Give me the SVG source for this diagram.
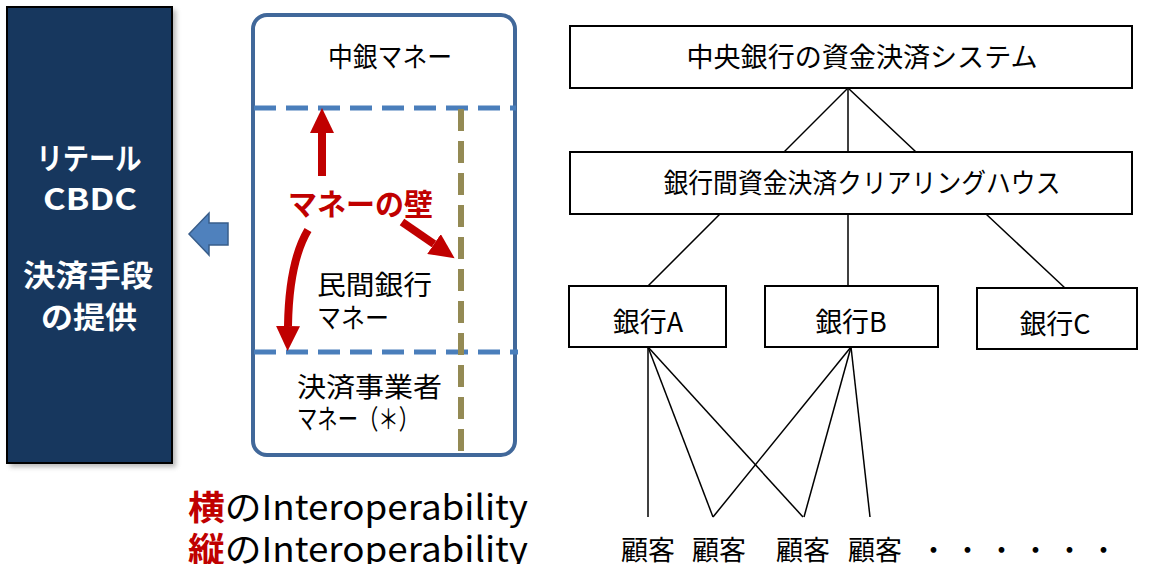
<svg xmlns="http://www.w3.org/2000/svg" width="1151" height="564" viewBox="0 0 1151 564">
<style>
text{font-family:"Noto Sans CJK JP","Noto Sans",sans-serif;fill:#000}
.box{fill:#fff;stroke:#000;stroke-width:2}
.lbl{font-size:27px;text-anchor:middle}
.mid{font-size:27px}
.wt{fill:#fff;font-weight:bold;font-size:30px;text-anchor:middle}
.conn{stroke:#000;stroke-width:1.5;fill:none}
.red{stroke:#c00000;stroke-width:8;fill:none}
.bdash{stroke:#4a7ebb;stroke-width:5;stroke-dasharray:22 10;fill:none}
.odash{stroke:#948a54;stroke-width:6;stroke-dasharray:22 10;fill:none}
.big{font-size:34px}
.r{fill:#c00000;font-weight:bold}
</style>
<defs>
<marker id="rh" markerUnits="userSpaceOnUse" markerWidth="26" markerHeight="24" refX="0" refY="12" orient="auto">
<path d="M0,0 L25,12 L0,24 z" fill="#c00000"/>
</marker>
<filter id="sh" x="-10%" y="-10%" width="130%" height="130%">
<feGaussianBlur stdDeviation="2.5"/>
</filter>
</defs>
<rect width="1151" height="564" fill="#fff"/>

<g id="cbdc">
<rect x="10" y="10" width="166" height="457" fill="#888" opacity="0.6" filter="url(#sh)"/>
<rect x="7" y="7" width="165" height="456" fill="#17375e" stroke="#000" stroke-width="2"/>
<text class="wt" x="89" y="169" textLength="105" lengthAdjust="spacingAndGlyphs">リテール</text>
<text class="wt" x="90" y="210" textLength="94" lengthAdjust="spacingAndGlyphs">CBDC</text>
<text class="wt" x="88" y="286" textLength="130" lengthAdjust="spacingAndGlyphs">決済手段</text>
<text class="wt" x="89" y="328" textLength="96" lengthAdjust="spacingAndGlyphs">の提供</text>
</g>

<g id="left-arrow">
<polygon points="189,234 209,213 209,223 228,223 228,245 209,245 209,255" fill="#4f81bd" stroke="#385d8a" stroke-width="1.5"/>
</g>

<g id="money-box">
<rect x="253" y="15" width="262" height="440" rx="14" fill="#fff" stroke="#41689a" stroke-width="4"/>
<text class="mid" x="328" y="67" textLength="124" lengthAdjust="spacingAndGlyphs">中銀マネー</text>
<text class="mid" x="317" y="295" textLength="115" lengthAdjust="spacingAndGlyphs">民間銀行</text>
<text class="mid" x="317" y="328" textLength="72" lengthAdjust="spacingAndGlyphs">マネー</text>
<text class="mid" x="297" y="397" textLength="145" lengthAdjust="spacingAndGlyphs">決済事業者</text>
<text class="mid" x="297" y="429" textLength="122" lengthAdjust="spacingAndGlyphs">マネー（＊）</text>
<line class="bdash" x1="254" y1="108" x2="516" y2="108"/>
<line class="bdash" x1="254" y1="352" x2="518" y2="352"/>
<line class="odash" x1="461" y1="109" x2="461" y2="453"/>
<path class="red" d="M322,176 L322,133" marker-end="url(#rh)"/>
<path class="red" d="M402,222 L434,244" marker-end="url(#rh)"/>
<path class="red" d="M308,230 Q289,262 288,326" marker-end="url(#rh)"/>
<text x="288" y="215" font-size="30" font-weight="bold" style="fill:#c00000" textLength="145" lengthAdjust="spacingAndGlyphs">マネーの壁</text>
</g>

<g id="interop">
<text class="big" x="188" y="520" textLength="340" lengthAdjust="spacingAndGlyphs"><tspan class="r">横</tspan>のInteroperability</text>
<text class="big" x="188" y="562" textLength="340" lengthAdjust="spacingAndGlyphs"><tspan class="r">縦</tspan>のInteroperability</text>
</g>

<g id="connectors">
<line class="conn" x1="848" y1="88" x2="784" y2="152"/>
<line class="conn" x1="848" y1="88" x2="848" y2="152"/>
<line class="conn" x1="848" y1="88" x2="916" y2="152"/>
<line class="conn" x1="720" y1="214" x2="648" y2="286"/>
<line class="conn" x1="848" y1="214" x2="848" y2="286"/>
<line class="conn" x1="986" y1="214" x2="1065" y2="288"/>
<line class="conn" x1="648" y1="347" x2="648" y2="517"/>
<line class="conn" x1="648" y1="347" x2="713" y2="517"/>
<line class="conn" x1="648" y1="347" x2="803" y2="517"/>
<line class="conn" x1="851" y1="347" x2="713" y2="517"/>
<line class="conn" x1="851" y1="347" x2="804" y2="517"/>
<line class="conn" x1="851" y1="347" x2="870" y2="517"/>
</g>

<g id="cb-system">
<rect class="box" x="570" y="26" width="562" height="62"/>
<text class="lbl" x="862" y="67" textLength="351" lengthAdjust="spacingAndGlyphs">中央銀行の資金決済システム</text>
</g>
<g id="clearing">
<rect class="box" x="570" y="152" width="562" height="62"/>
<text class="lbl" x="862" y="193" textLength="397" lengthAdjust="spacingAndGlyphs">銀行間資金決済クリアリングハウス</text>
</g>
<g id="bank-a">
<rect class="box" x="569" y="286" width="157" height="61"/>
<text class="lbl" x="648" y="332">銀行A</text>
</g>
<g id="bank-b">
<rect class="box" x="765" y="286" width="173" height="61"/>
<text class="lbl" x="851" y="332">銀行B</text>
</g>
<g id="bank-c">
<rect class="box" x="977" y="288" width="160" height="61"/>
<text class="lbl" x="1055" y="334">銀行C</text>
</g>
<g id="customers">
<text class="lbl" x="648" y="560">顧客</text>
<text class="lbl" x="719" y="560">顧客</text>
<text class="lbl" x="803" y="560">顧客</text>
<text class="lbl" x="875" y="560">顧客</text>
<text x="920" y="560" font-size="27" textLength="197" lengthAdjust="spacing">・・・・・・</text>
</g>
</svg>
